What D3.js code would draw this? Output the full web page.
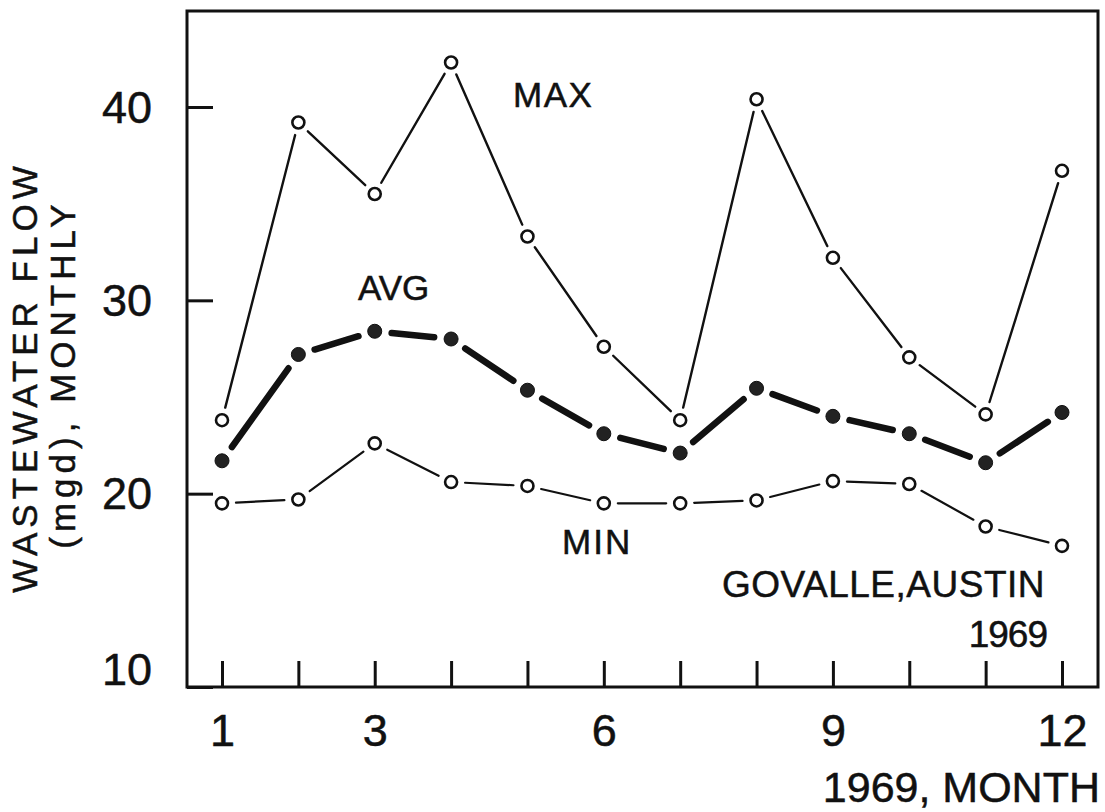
<!DOCTYPE html>
<html>
<head>
<meta charset="utf-8">
<script src="https://cdn.jsdelivr.net/npm/d3@7/dist/d3.min.js"></script>
<style>
  html, body { margin: 0; padding: 0; background: #fff; }
  svg { display: block; }
  text { font-family: "Liberation Sans", Arial, sans-serif; fill: #111; stroke: #111; stroke-width: 0.5px; }
</style>
</head>
<body>
<svg id="chart" width="1105" height="812"></svg>
<script>
// Govalle plant, Austin, 1969 — monthly wastewater flow (mgd)
const months   = [1, 2, 3, 4, 5, 6, 7, 8, 9, 10, 11, 12];
const maxFlow  = [23.8, 39.2, 35.5, 42.3, 33.3, 27.6, 23.8, 40.4, 32.2, 27.05, 24.1, 36.7];
const avgFlow  = [21.7, 27.2, 28.4, 28.0, 25.35, 23.1, 22.1, 25.45, 24.0, 23.1, 21.6, 24.2];
const minFlow  = [19.5, 19.7, 22.6, 20.6, 20.4, 19.5, 19.5, 19.65, 20.65, 20.5, 18.3, 17.3];
const yTicks   = [10, 20, 30, 40];
const xLabeled = [1, 3, 6, 9, 12];

const svg = d3.select("#chart");
svg.append("rect").attr("width", 1105).attr("height", 812).attr("fill", "#fff");

const frame = { left: 187, right: 1098, top: 11, bottom: 687 };

const x = d3.scaleLinear().domain([1, 12]).range([222, 1062]);
const y = d3.scaleLinear().domain([10, 40]).range([frame.bottom, 107]);

// plot frame
svg.append("rect")
  .attr("x", frame.left).attr("y", frame.top)
  .attr("width", frame.right - frame.left).attr("height", frame.bottom - frame.top)
  .attr("fill", "none").attr("stroke", "#111").attr("stroke-width", 3);

// y axis: inward ticks
const yAxis = svg.append("g")
  .attr("transform", `translate(${frame.left},0)`)
  .call(d3.axisLeft(y).tickValues(yTicks).tickSizeInner(-26).tickSizeOuter(0).tickPadding(35));
yAxis.select(".domain").remove();
yAxis.selectAll(".tick line").attr("stroke", "#111").attr("stroke-width", 3);
yAxis.selectAll(".tick text")
  .style("font-family", "'Liberation Sans', Arial, sans-serif")
  .attr("font-size", 45).attr("fill", "#111")
  .attr("dy", d => d === 10 ? "-0.05em" : "0.34em");

// x axis: inward ticks for every month, labels on a few
const xAxis = svg.append("g")
  .attr("transform", `translate(0,${frame.bottom})`)
  .call(d3.axisBottom(x).tickValues(months).tickSizeInner(-26).tickSizeOuter(0).tickPadding(27)
    .tickFormat(d => xLabeled.includes(d) ? String(d) : ""));
xAxis.select(".domain").remove();
xAxis.selectAll(".tick line").attr("stroke", "#111").attr("stroke-width", 3);
xAxis.selectAll(".tick text")
  .style("font-family", "'Liberation Sans', Arial, sans-serif")
  .attr("font-size", 45).attr("fill", "#111");

// connecting segments that stop short of each marker
function segments(values, gap) {
  const out = [];
  for (let i = 0; i < values.length - 1; i++) {
    const x1 = x(months[i]), y1 = y(values[i]);
    const x2 = x(months[i + 1]), y2 = y(values[i + 1]);
    const len = Math.hypot(x2 - x1, y2 - y1);
    const ux = (x2 - x1) / len, uy = (y2 - y1) / len;
    out.push({ x1: x1 + ux * gap, y1: y1 + uy * gap, x2: x2 - ux * gap, y2: y2 - uy * gap });
  }
  return out;
}

function drawSeries(values, opts) {
  const g = svg.append("g");
  g.selectAll("line").data(segments(values, opts.gap)).join("line")
    .attr("x1", d => d.x1).attr("y1", d => d.y1)
    .attr("x2", d => d.x2).attr("y2", d => d.y2)
    .attr("stroke", "#111").attr("stroke-width", opts.width)
    .attr("stroke-linecap", "round");
  g.selectAll("circle").data(values).join("circle")
    .attr("cx", (d, i) => x(months[i])).attr("cy", d => y(d))
    .attr("r", opts.r)
    .attr("fill", opts.filled ? "#222" : "#fff")
    .attr("stroke", "#111").attr("stroke-width", opts.filled ? 1 : 2.6);
}

drawSeries(maxFlow, { gap: 13, width: 2.4, r: 6, filled: false });
drawSeries(minFlow, { gap: 14, width: 2.2, r: 6, filled: false });
drawSeries(avgFlow, { gap: 17, width: 6.5, r: 7, filled: true });

// series and site labels
const label = (t, px, py, anchor, size, spacing) =>
  svg.append("text").attr("x", px).attr("y", py)
    .attr("text-anchor", anchor).attr("font-size", size)
    .attr("letter-spacing", spacing).text(t);

label("MAX", 513, 107, "start", 35, 1.5);
label("AVG", 358, 300, "start", 35, 0);
label("MIN", 562, 554, "start", 35, 2);
label("GOVALLE,AUSTIN", 1045, 597, "end", 37, 0.5);
label("1969", 1047, 647, "end", 37, -1);

// axis titles
label("1969, MONTH", 1100, 802, "end", 43, 0);

svg.append("text")
  .attr("transform", "translate(37,377) rotate(-90)")
  .attr("text-anchor", "middle").attr("font-size", 35).attr("letter-spacing", 5)
  .text("WASTEWATER FLOW");
svg.append("text")
  .attr("transform", "translate(75,374) rotate(-90)")
  .attr("text-anchor", "middle").attr("font-size", 35).attr("letter-spacing", 5)
  .text("(mgd), MONTHLY");
</script>
</body>
</html>
